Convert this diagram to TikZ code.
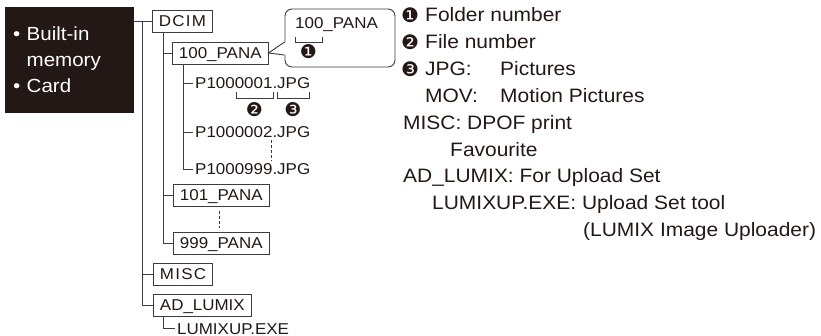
\documentclass[tikz,border=0pt]{standalone}
\usepackage{fontspec}
\setmainfont[FakeStretch=1.08]{Liberation Sans}
\newfontfamily\dingfont{DejaVu Sans}
\usetikzlibrary{positioning}
\definecolor{inkblack}{HTML}{231815}
\definecolor{linegray}{HTML}{3C3C3C}
\newcommand{\treefont}{\fontsize{15.7}{18}\selectfont}
\newcommand{\notefont}{\fontsize{19.4}{22}\selectfont}
\newcommand{\mediafont}{\fontsize{19}{26}\selectfont}

\begin{document}
\begin{tikzpicture}[x=1pt, y=-1pt,
    folder/.style={draw=linegray, line width=0.9pt, font=\treefont, text=inkblack,
      inner xsep=6.5pt, minimum height=22pt, text height=11.5pt, text depth=0pt, anchor=west},
    spaced/.style={font=\treefont\addfontfeatures{LetterSpace=8}},
    file/.style={font=\treefont, text=inkblack, inner sep=2pt, text height=11.5pt,
      text depth=0pt, anchor=west},
    link/.style={draw=linegray, line width=0.9pt},
    gap/.style={link, dash pattern=on 3pt off 2pt},
    num/.style={font=\dingfont\fontsize{19}{19}\selectfont, text=inkblack, inner sep=0pt},
    note/.style={font=\notefont, text=inkblack, inner sep=0pt, anchor=base west}]
  \useasboundingbox (0,0) rectangle (821,336);

  % storage box
  \node[fill=inkblack, text=white, font=\mediafont, align=left, anchor=north west,
    minimum height=106pt, text width=113pt, inner xsep=8pt] (media) at (5,7)
    {\textbullet\ Built-in\\\phantom{\textbullet\ }memory\\\textbullet\ Card};

  % folders and files
  \node[folder, spaced] (dcim) at (152,21) {DCIM};
  \node[folder] (p100) at (172,53) {100\_PANA};
  \node[file] (f1) at (193,83) {P1000001.JPG};
  \node[file] (f2) at (193,132) {P1000002.JPG};
  \node[file] (f999) at (193,169) {P1000999.JPG};
  \node[folder] (p101) at (173,195) {101\_PANA};
  \node[folder] (p999) at (173,243) {999\_PANA};
  \node[folder, spaced] (misc) at (153,274) {MISC};
  \node[folder] (adl) at (153,305) {AD\_LUMIX};
  \node[file] (exe) at (175,328.5) {LUMIXUP.EXE};

  % tree lines
  \coordinate (root) at ([xshift=-10pt]dcim.west);
  \draw[link] (media.east |- dcim.west) -- (dcim.west);
  \draw[link] (root) |- (adl.west);
  \draw[link] (root |- misc.west) -- (misc.west);
  \coordinate (dtrunk) at ([xshift=11pt]dcim.south west);
  \draw[link] (dtrunk) |- (p999.west);
  \draw[link] (dtrunk |- p100.west) -- (p100.west);
  \draw[link] (dtrunk |- p101.west) -- (p101.west);
  \coordinate (ptrunk) at ([xshift=11pt]p100.south west);
  \draw[link] (ptrunk) |- (f999.west);
  \draw[link] (ptrunk |- f1.west) -- (f1.west);
  \draw[link] (ptrunk |- f2.west) -- (f2.west);
  \draw[link] ([xshift=10pt]adl.south west) |- (exe.west);
  \draw[gap] ([xshift=78pt]f2.south west) -- ([xshift=78pt]f999.north west);
  \draw[gap, shorten <=5pt, shorten >=4pt] ([xshift=-2pt]p101.south) -- ([xshift=-2pt]p999.north);

  % file name parts
  \draw[link, line width=0.8pt] (236,92) |- (273,98) -- (273,92);
  \draw[link, line width=0.8pt] (277,92) |- (309,98) -- (309,92);
  \node[num] (n2) at (254.5,110) {❷};
  \node[num] (n3) at (293,110) {❸};

  % callout
  \node[draw=linegray, line width=0.9pt, rounded corners=7pt, minimum width=110pt,
    minimum height=58pt] (callout) at (340,38) {};
  \fill[white] ([xshift=1.5pt,yshift=-4pt]callout.west) -- (p100.east)
    -- ([xshift=1.5pt,yshift=-17pt]callout.west) -- cycle;
  \draw[link] ([yshift=-4pt]callout.west) -- (p100.east) -- ([yshift=-17pt]callout.west);
  \node[file, anchor=base west, inner sep=0pt] (ctext) at (295,29) {100\_PANA};
  \draw[link, line width=0.8pt] (295,37) |- (322,42) -- (322,37);
  \node[num] (n1) at (308.5,52) {❶};

  % notes
  \node[num, font=\dingfont\fontsize{20}{20}\selectfont] (c1) at (410,15) {❶};
  \node[note] (r1) at (425,22) {Folder number};
  \node[num, font=\dingfont\fontsize{20}{20}\selectfont] (c2) at (410,42) {❷};
  \node[note] (r2) at (425,49) {File number};
  \node[num, font=\dingfont\fontsize{20}{20}\selectfont] (c3) at (410,69) {❸};
  \node[note] (r3) at (425,76) {\makebox[75pt][l]{JPG:}Pictures};
  \node[note] (r4) at (425,103) {\makebox[75pt][l]{MOV:}Motion Pictures};
  \node[note] (r5) at (403,130) {MISC: DPOF print};
  \node[note] (r6) at (450,157) {Favourite};
  \node[note] (r7) at (403,183) {AD\_LUMIX: For Upload Set};
  \node[note] (r8) at (432,210) {LUMIXUP.EXE: Upload Set tool};
  \node[note] (r9) at (583,237) {(LUMIX Image Uploader)};
\end{tikzpicture}
\end{document}
